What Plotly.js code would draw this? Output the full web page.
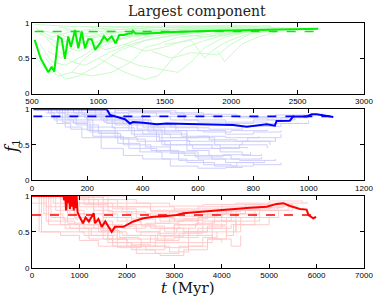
<!DOCTYPE html>
<html>
<head>
<meta charset="utf-8">
<script src="https://cdn.plot.ly/plotly-3.0.1.min.js"></script>
<style>html,body{margin:0;padding:0;background:#fff;}#chart{width:374px;height:298px;}</style>
</head>
<body>
<div id="chart"></div>
<script>
// ---- Panel 1 (green) ----
const greenMainT = [520,565,623,648,668,698,723,748,773,793,824,849,874,899,924,949,975,1012,1042,1067,1100,1130,1157,1193,1225,1250,1260,1280,1360,1430,1480,1505,1630,1755,1880,2005,2130,2255,2380,2505,2655];
const greenMainF = [0.76,0.50,0.30,0.38,0.31,0.81,0.78,0.49,0.81,0.66,0.90,0.64,0.88,0.64,0.77,0.77,0.62,0.71,0.81,0.75,0.81,0.71,0.83,0.83,0.85,0.85,0.89,0.85,0.85,0.85,0.86,0.87,0.88,0.885,0.89,0.895,0.90,0.905,0.91,0.915,0.92];
const greenDashT = [520,2660];
const greenDashF = [0.88,0.88];
const greenBackground = [
  [[520,0.55],[600,0.35],[700,0.25],[800,0.3],[900,0.5],[1000,0.65],[1200,0.8],[1500,0.87],[2000,0.9],[2300,0.91]],
  [[540,0.9],[700,0.85],[900,0.7],[1100,0.75],[1300,0.85],[1700,0.9],[2200,0.92]],
  [[600,0.5],[750,0.2],[850,0.25],[1000,0.4],[1150,0.6],[1350,0.75],[1500,0.8],[1800,0.88],[2100,0.9]],
  [[700,0.95],[900,0.85],[1100,0.9],[1400,0.93],[1800,0.94],[2200,0.93]],
  [[800,0.3],[950,0.25],[1100,0.3],[1250,0.45],[1350,0.65],[1450,0.7],[1600,0.8],[1900,0.85],[2200,0.9]],
  [[1000,0.5],[1200,0.3],[1350,0.2],[1450,0.25],[1560,0.5],[1650,0.65],[1800,0.75],[2000,0.85],[2300,0.9]],
  [[520,0.98],[800,0.95],[1200,0.95],[1600,0.96],[2100,0.95],[2400,0.93]],
  [[1400,0.6],[1550,0.5],[1700,0.58],[1900,0.55],[2000,0.7],[2150,0.85],[2350,0.9]],
  [[560,0.7],[650,0.45],[750,0.4],[900,0.55],[1000,0.7],[1250,0.8],[1450,0.86],[1800,0.9]],
  [[600,0.8],[700,0.6],[800,0.45],[900,0.4],[1000,0.5],[1100,0.6],[1250,0.7],[1400,0.78],[1700,0.87],[2000,0.9]],
  [[900,0.95],[1100,0.9],[1300,0.93],[1700,0.95],[2000,0.97],[2300,0.95]],
  [[1500,0.7],[1700,0.75],[1800,0.5],[1850,0.6],[1950,0.72],[2050,0.8],[2200,0.88]],
  [[1900,0.6],[1950,0.45],[2000,0.55],[2080,0.7],[2200,0.8],[2350,0.88]],
  [[1100,0.55],[1300,0.4],[1450,0.35],[1600,0.3],[1700,0.45],[1800,0.65],[1950,0.8],[2150,0.88]],
  [[700,0.7],[850,0.6],[1000,0.75],[1200,0.85],[1500,0.9],[1900,0.93],[2400,0.92]],
  [[530,0.92],[650,0.8],[800,0.88],[1000,0.92],[1300,0.95],[1600,0.93],[1900,0.96],[2200,0.94]],
  [[620,0.6],[720,0.5],[850,0.7],[1000,0.82],[1200,0.88],[1600,0.91],[2000,0.93]],
  [[900,0.75],[1050,0.62],[1200,0.7],[1350,0.8],[1550,0.85],[1800,0.9],[2100,0.92],[2500,0.93]],
  [[750,0.9],[950,0.8],[1150,0.82],[1400,0.88],[1700,0.92],[2000,0.94],[2300,0.96]],
  [[1200,0.7],[1350,0.6],[1500,0.66],[1650,0.75],[1850,0.82],[2050,0.87],[2300,0.9]],
  [[1600,0.85],[1800,0.8],[2000,0.84],[2200,0.9],[2450,0.92]],
  [[560,0.85],[700,0.72],[850,0.78],[1050,0.86],[1350,0.9],[1700,0.92],[2100,0.91]]
];

// ---- Panel 2 (blue) ----
const blueMainT = [5,270,282,300,336,354,365,403,451,487,547,607,667,727,776,800,848,878,884,932,944,993,1011,1029,1053,1089];
const blueMainF = [1.0,1.0,0.92,0.90,0.86,0.80,0.82,0.81,0.79,0.80,0.795,0.79,0.79,0.78,0.755,0.77,0.79,0.77,0.835,0.84,0.90,0.90,0.93,0.93,0.91,0.89];
const blueDashT = [5,1090];
const blueDashF = [0.90,0.90];
const blueBackground = [
  [[10,1],[60,0.95],[80,0.85],[150,0.8],[200,0.75],[300,0.7],[400,0.65],[500,0.6],[600,0.62],[700,0.6],[820,0.62]],
  [[10,1],[100,0.9],[200,0.7],[250,0.6],[350,0.45],[450,0.4],[550,0.35],[650,0.3],[750,0.28],[880,0.3]],
  [[20,1],[150,0.95],[250,0.85],[350,0.7],[450,0.55],[500,0.4],[600,0.3],[700,0.25],[800,0.22],[900,0.25]],
  [[30,1],[300,0.98],[400,0.9],[500,0.85],[600,0.82],[700,0.8],[800,0.85],[900,0.88],[1000,0.9]],
  [[50,0.95],[120,0.75],[180,0.6],[250,0.45],[330,0.35],[400,0.3],[500,0.2],[600,0.17],[700,0.18],[760,0.2]],
  [[10,1],[200,0.98],[280,0.9],[400,0.75],[480,0.65],[560,0.5],[650,0.45],[750,0.5],[850,0.45]],
  [[80,1],[300,0.95],[450,0.9],[600,0.9],[750,0.88],[850,0.85],[950,0.87]],
  [[10,1],[130,0.85],[220,0.7],[300,0.6],[380,0.55],[480,0.5],[580,0.45],[680,0.4],[760,0.35],[830,0.37]],
  [[10,1],[250,0.95],[350,0.85],[430,0.75],[520,0.7],[620,0.68],[720,0.7],[850,0.72]],
  [[40,0.9],[90,0.8],[140,0.72],[220,0.62],[330,0.5],[430,0.42],[530,0.28],[620,0.22],[720,0.2],[800,0.22]],
  [[10,1],[350,0.97],[500,0.93],[650,0.9],[800,0.88],[950,0.85]],
  [[10,1],[170,0.9],[270,0.8],[360,0.65],[460,0.6],[560,0.55],[660,0.5],[760,0.55],[880,0.6]],
  [[100,1],[300,0.88],[400,0.8],[500,0.75],[600,0.7],[700,0.65],[800,0.68],[900,0.7]],
  [[10,1],[200,0.85],[300,0.78],[420,0.68],[540,0.62],[640,0.57],[740,0.55],[860,0.5]],
  [[10,1],[120,0.92],[260,0.82],[380,0.72],[470,0.5],[560,0.42],[640,0.35],[720,0.3],[830,0.33]],
  [[60,1],[400,0.95],[550,0.85],[700,0.82],[850,0.8],[960,0.82]],
  [[10,1],[70,0.88],[160,0.78],[240,0.66],[320,0.58],[410,0.47],[500,0.38],[590,0.33],[690,0.36],[790,0.4]],
  [[10,1],[180,0.93],[300,0.85],[420,0.78],[520,0.74],[640,0.72],[760,0.76],[900,0.8],[1000,0.84]],
  [[25,1],[110,0.82],[210,0.68],[310,0.52],[390,0.4],[470,0.3],[560,0.25],[660,0.2],[740,0.25],[840,0.28]],
  [[10,1],[400,0.98],[520,0.95],[620,0.93],[740,0.9],[880,0.92],[1050,0.95]],
  [[10,1],[230,0.9],[330,0.8],[440,0.7],[560,0.6],[660,0.55],[780,0.6],[900,0.65]],
  [[10,1],[90,0.95],[190,0.88],[290,0.74],[370,0.62],[460,0.56],[570,0.5],[680,0.46],[780,0.45]]
];

// ---- Panel 3 (red) ----
const redMainT = [0,660,680,700,720,740,760,780,800,820,840,860,880,900,920,940,960,985,1075,1130,1200,1300,1330,1400,1470,1545,1680,1750,1925,2136,2347,2558,2840,3050,3190,3540,3890,4245,4596,4948,5159,5300,5440,5650,5790,5830,5930,5990];
const redMainF = [1.0,1.0,0.94,1.0,0.80,1.0,0.90,1.0,0.82,1.0,0.85,1.0,0.80,1.0,0.83,1.0,0.78,0.735,0.62,0.70,0.645,0.76,0.62,0.68,0.57,0.645,0.50,0.57,0.57,0.645,0.69,0.71,0.72,0.735,0.76,0.78,0.79,0.81,0.835,0.85,0.89,0.90,0.86,0.82,0.81,0.735,0.69,0.71];
const redDashT = [0,5900];
const redDashF = [0.735,0.735];
const redBackground = [
  [[0,1],[150,0.5],[1000,0.5],[1100,0.45],[1500,0.4],[2000,0.35],[2500,0.45],[3000,0.6],[3500,0.7],[4000,0.75],[4500,0.8],[5000,0.85]],
  [[0,1],[300,0.85],[800,0.75],[1200,0.6],[1600,0.4],[2000,0.3],[2400,0.25],[2800,0.35],[3300,0.5],[3800,0.65],[4300,0.75],[4800,0.82]],
  [[0,1],[600,0.95],[1000,0.85],[1500,0.7],[2000,0.6],[2500,0.55],[3000,0.6],[3500,0.7],[4000,0.75],[4500,0.8],[5500,0.85]],
  [[0,1],[400,0.7],[700,0.55],[1200,0.4],[1700,0.3],[2200,0.2],[2700,0.17],[3200,0.25],[3700,0.4],[4100,0.55]],
  [[0,1],[1000,0.98],[1500,0.9],[2000,0.85],[2500,0.8],[3000,0.82],[3500,0.85],[4000,0.88],[5000,0.9],[5800,0.92]],
  [[100,1],[700,0.8],[1100,0.65],[1500,0.5],[1900,0.45],[2300,0.5],[2700,0.55],[3100,0.6],[3600,0.65],[4200,0.72]],
  [[0,1],[200,0.5],[600,0.45],[1000,0.38],[1400,0.3],[1800,0.28],[2300,0.35],[2800,0.45],[3300,0.55]],
  [[0,1],[800,0.9],[1300,0.75],[1800,0.65],[2300,0.58],[2800,0.5],[3300,0.45],[3800,0.4],[4200,0.3],[4400,0.45]],
  [[200,1],[1000,0.95],[1400,0.85],[1900,0.78],[2400,0.75],[2900,0.78],[3400,0.8],[4000,0.85],[4800,0.88]],
  [[0,1],[500,0.8],[900,0.7],[1300,0.55],[1800,0.4],[2300,0.3],[2800,0.28],[3300,0.35],[3800,0.5],[4300,0.65],[4800,0.75]],
  [[0,0.9],[300,0.65],[900,0.6],[1400,0.5],[2000,0.45],[2600,0.4],[3000,0.42],[3500,0.55],[4000,0.62]],
  [[1000,1],[1300,0.8],[1700,0.7],[2100,0.6],[2600,0.55],[3200,0.5],[3700,0.55],[4200,0.6],[5000,0.7]],
  [[0,1],[1200,0.95],[1800,0.85],[2500,0.78],[3100,0.72],[3600,0.7],[4000,0.65],[4300,0.5],[4400,0.7],[5200,0.8]],
  [[0,1],[600,0.6],[1000,0.5],[1500,0.45],[1800,0.3],[2100,0.25],[2600,0.2],[3100,0.3],[3700,0.4],[4000,0.35]],
  [[1500,1],[2000,0.9],[2500,0.85],[3000,0.8],[3500,0.82],[4500,0.88],[5500,0.9]],
  [[0,1],[900,0.9],[1500,0.6],[1900,0.55],[2400,0.62],[2900,0.68],[3400,0.72],[3900,0.78],[4400,0.82],[5200,0.86]],
  [[0,1],[450,0.9],[750,0.62],[1100,0.55],[1600,0.35],[2100,0.3],[2600,0.38],[3100,0.48],[3600,0.6],[4100,0.7],[4700,0.8],[5400,0.87]],
  [[1200,1],[1600,0.85],[2000,0.75],[2500,0.7],[3000,0.65],[3500,0.7],[4000,0.8],[4600,0.84]],
  [[0,1],[250,0.75],[650,0.68],[1050,0.6],[1450,0.52],[1850,0.42],[2250,0.4],[2650,0.48],[3050,0.55],[3450,0.62],[3850,0.7],[4300,0.78]],
  [[0,1],[700,0.97],[1200,0.9],[1700,0.82],[2200,0.7],[2700,0.65],[3200,0.68],[3700,0.76],[4200,0.82],[4900,0.86],[5600,0.88]],
  [[0,1],[350,0.6],[800,0.55],[1250,0.45],[1700,0.35],[2100,0.32],[2500,0.3],[2900,0.22],[3300,0.3],[3600,0.42],[3900,0.5]],
  [[500,1],[1100,0.88],[1600,0.78],[2100,0.68],[2600,0.62],[3100,0.66],[3600,0.74],[4100,0.8],[4700,0.84],[5300,0.88]],
  [[0,1],[900,0.75],[1300,0.65],[1700,0.58],[2200,0.5],[2700,0.44],[3200,0.5],[3700,0.58],[4100,0.45],[4250,0.6],[4700,0.7]],
  [[0,1],[1500,0.95],[2200,0.9],[2900,0.86],[3600,0.88],[4300,0.9],[5000,0.93],[5700,0.9]]
];

const titleText = "Largest component";
const yLabel = "<i>f</i><sub>1</sub>";
const xLabel = "<i>t</i> (Myr)";

const traces = [];
function addBg(list, color, xa, ya, shape) {
  list.forEach(pts => {
    traces.push({x: pts.map(p => p[0]), y: pts.map(p => p[1]), type: 'scatter', mode: 'lines',
      line: {color: color, width: 0.9, shape: shape}, xaxis: xa, yaxis: ya, hoverinfo: 'skip', showlegend: false});
  });
}
addBg(greenBackground, 'rgb(196,248,196)', 'x', 'y', 'linear');
traces.push({x: greenDashT, y: greenDashF, mode: 'lines', line: {color: '#00ee00', width: 1.6, dash: 'dash'}, xaxis: 'x', yaxis: 'y', showlegend: false});
traces.push({x: greenMainT, y: greenMainF, mode: 'lines', line: {color: '#00ee00', width: 2}, xaxis: 'x', yaxis: 'y', showlegend: false});

addBg(blueBackground, 'rgb(202,202,250)', 'x2', 'y2', 'hv');
traces.push({x: blueDashT, y: blueDashF, mode: 'lines', line: {color: '#0000ff', width: 1.6, dash: 'dash'}, xaxis: 'x2', yaxis: 'y2', showlegend: false});
traces.push({x: blueMainT, y: blueMainF, mode: 'lines', line: {color: '#0000ff', width: 2}, xaxis: 'x2', yaxis: 'y2', showlegend: false});

addBg(redBackground, 'rgb(255,198,198)', 'x3', 'y3', 'hv');
traces.push({x: redDashT, y: redDashF, mode: 'lines', line: {color: '#ff0000', width: 1.6, dash: 'dash'}, xaxis: 'x3', yaxis: 'y3', showlegend: false});
traces.push({x: redMainT, y: redMainF, mode: 'lines', line: {color: '#ff0000', width: 2}, xaxis: 'x3', yaxis: 'y3', showlegend: false});

const W = 374, H = 298;
const xd = [32 / W, 364 / W];
function yd(top, bot) { return [1 - bot / H, 1 - top / H]; }
const tickFont = {family: 'Liberation Sans, Arial, sans-serif', size: 8, color: '#000'};
function xax(range, dtick, anchor) {
  return {domain: xd, range: range, dtick: dtick, tick0: 0, anchor: anchor, showgrid: false, zeroline: false,
    showline: true, linecolor: '#000', linewidth: 1, mirror: 'ticks', ticks: 'inside', ticklen: 4, tickcolor: '#000',
    tickfont: tickFont, fixedrange: true};
}
function yax(dom, anchor) {
  return {domain: dom, range: [0, 1], tickvals: [0, 0.5, 1], ticktext: ['0', '0.5', '1'], anchor: anchor, showgrid: false, zeroline: false,
    showline: true, linecolor: '#000', linewidth: 1, mirror: 'ticks', ticks: 'inside', ticklen: 4, tickcolor: '#000',
    tickfont: tickFont, fixedrange: true};
}
const layout = {
  width: W, height: H, margin: {l: 0, r: 0, t: 0, b: 0}, paper_bgcolor: '#fff', plot_bgcolor: '#fff', showlegend: false,
  xaxis: xax([500, 3000], 500, 'y'),
  yaxis: yax(yd(23, 93.5), 'x'),
  xaxis2: xax([0, 1200], 200, 'y2'),
  yaxis2: yax(yd(109.3, 180.3), 'x2'),
  xaxis3: xax([0, 7000], 1000, 'y3'),
  yaxis3: yax(yd(196, 267.7), 'x3'),
  annotations: [
    {text: titleText, xref: 'paper', yref: 'paper', x: 197 / W, y: 1 - 11 / H, xanchor: 'center', yanchor: 'middle', showarrow: false,
      font: {family: 'DejaVu Serif, Liberation Serif, serif', size: 14, color: '#222'}},
    {text: yLabel, xref: 'paper', yref: 'paper', x: 12 / W, y: 1 - 146 / H, xanchor: 'center', yanchor: 'middle', showarrow: false, textangle: -90,
      font: {family: 'DejaVu Serif, Liberation Serif, serif', size: 16, color: '#111'}},
    {text: xLabel, xref: 'paper', yref: 'paper', x: 188 / W, y: 1 - 288 / H, xanchor: 'center', yanchor: 'middle', showarrow: false,
      font: {family: 'DejaVu Serif, Liberation Serif, serif', size: 15, color: '#111'}}
  ]
};
Plotly.newPlot('chart', traces, layout, {staticPlot: true, displayModeBar: false});
</script>
</body>
</html>
